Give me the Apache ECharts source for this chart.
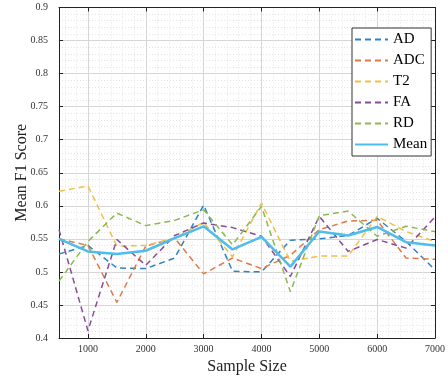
<!DOCTYPE html>
<html><head><meta charset="utf-8">
<script src="https://cdn.jsdelivr.net/npm/echarts@6/dist/echarts.min.js"></script>
<style>html,body{margin:0;padding:0;background:#fff}#c{width:448px;height:380px}</style>
</head><body><div id="c"></div>
<script>
const sampleSizes = [500,1000,1500,2000,2500,3000,3500,4000,4500,5000,5500,6000,6500,7000];
const AD   = [0.527,0.540,0.506,0.505,0.521,0.601,0.501,0.500,0.548,0.550,0.555,0.581,0.546,0.503];
const ADC  = [0.550,0.540,0.454,0.539,0.551,0.497,0.521,0.505,0.525,0.564,0.577,0.578,0.521,0.519];
const T2   = [0.622,0.630,0.539,0.540,0.551,0.575,0.523,0.604,0.516,0.524,0.524,0.584,0.561,0.546];
const FA   = [0.564,0.411,0.549,0.510,0.555,0.574,0.567,0.554,0.493,0.584,0.531,0.549,0.536,0.583];
const RD   = [0.486,0.546,0.589,0.570,0.578,0.594,0.541,0.599,0.470,0.585,0.592,0.554,0.569,0.561];
const MEAN = [0.550,0.531,0.527,0.532,0.551,0.569,0.534,0.553,0.508,0.561,0.555,0.568,0.545,0.540];
const xTickValues = [1000,2000,3000,4000,5000,6000,7000];
const seriesNames = ['AD','ADC','T2','FA','RD','Mean'];
const seriesValues = [AD, ADC, T2, FA, RD, MEAN];
const seriesColors = ['#2f82c4','#de7a48','#f0bf45','#8a4b9b','#8ab952','#4dbdec'];

const FONT = 'Liberation Serif';
const chart = echarts.init(document.getElementById('c'));
const minorColors = ['rgba(0,0,0,0)','#e4e4e4','rgba(0,0,0,0)','#e4e4e4','rgba(0,0,0,0)',
                     'rgba(0,0,0,0)','rgba(0,0,0,0)','#e4e4e4','rgba(0,0,0,0)','#e4e4e4'];
const axisLine = {show:true, lineStyle:{color:'#222', width:1}};

const series = seriesNames.map((n, k) => {
  const isMean = n === 'Mean';
  return {
    name: n, type: 'line', symbol: 'none', xAxisIndex: 0, yAxisIndex: 0,
    data: sampleSizes.map((x, i) => [x, seriesValues[k][i]]),
    itemStyle: {color: seriesColors[k]},
    lineStyle: {color: seriesColors[k], width: isMean ? 2.5 : 1.5, type: isMean ? 'solid' : [6,4]},
    z: isMean ? 5 : 3
  };
});

chart.setOption({
  animation: false,
  backgroundColor: '#fff',
  grid: {left: 59, right: 10, top: 7.5, bottom: 42, containLabel: false},
  legend: {
    orient: 'vertical', left: 352, top: 28, padding: [4,4,4,2],
    itemWidth: 33, itemHeight: 14, itemGap: 6,
    itemStyle: {opacity: 0, color: 'rgba(0,0,0,0)', borderColor: 'rgba(0,0,0,0)', borderWidth: 0},
    backgroundColor: '#fff', borderColor: '#333', borderWidth: 1,
    textStyle: {fontFamily: FONT, fontSize: 15, color: '#000'},
    data: seriesNames
  },
  xAxis: [
    {type:'value', min:500, max:7000, position:'bottom',
     axisLine: axisLine,
     axisTick:{show:true, inside:true, length:4, customValues: xTickValues, lineStyle:{color:'#222'}},
     axisLabel:{customValues: xTickValues, margin:6, fontFamily:FONT, fontSize:10, color:'#333',
                formatter: v => String(v)},
     splitLine:{show:true, lineStyle:{color:'#d6d6d6', width:1}},
     name:'Sample Size', nameLocation:'middle', nameGap:21, nameMoveOverlap:false,
     nameTextStyle:{fontFamily:FONT, fontSize:16, color:'#222'}},
    {type:'value', min:500, max:7000, interval:100, position:'bottom',
     axisLine:{show:false}, axisTick:{show:false}, axisLabel:{show:false},
     splitLine:{show:true, lineStyle:{color: minorColors, width:1, type:[1,2]}}},
    {type:'value', min:500, max:7000, position:'top',
     axisLine: axisLine,
     axisTick:{show:true, inside:true, length:4, customValues: xTickValues, lineStyle:{color:'#222'}},
     axisLabel:{show:false}, splitLine:{show:false}}
  ],
  yAxis: [
    {type:'value', min:0.4, max:0.9, interval:0.05, position:'left',
     axisLine: axisLine,
     axisTick:{show:true, inside:true, length:4, lineStyle:{color:'#222'}},
     axisLabel:{margin:11, fontFamily:FONT, fontSize:10, color:'#333'},
     splitLine:{show:true, lineStyle:{color:'#d6d6d6', width:1}},
     minorTick:{show:false, splitNumber:5},
     minorSplitLine:{show:true, lineStyle:{color:'#e4e4e4', width:1, type:[1,2]}},
     name:'Mean F1 Score', nameLocation:'middle', nameGap:29, nameMoveOverlap:false,
     nameTextStyle:{fontFamily:FONT, fontSize:16, color:'#222'}},
    {type:'value', min:0.4, max:0.9, interval:0.05, position:'right',
     axisLine: axisLine,
     axisTick:{show:true, inside:true, length:4, lineStyle:{color:'#222'}},
     axisLabel:{show:false}, splitLine:{show:false}}
  ],
  series: series
});
</script></body></html>
